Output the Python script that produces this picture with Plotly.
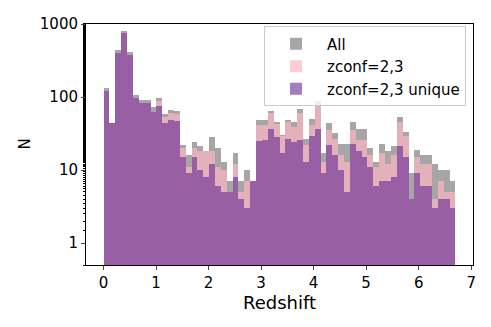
import numpy as np
import plotly.graph_objects as go

# histogram: 60 bins between z=0 and z=6.7
z_min, z_max, n_bins = 0.0, 6.7, 60

all_counts = [131, 44, 440, 810, 418, 105, 92, 92, 72, 96,
              58, 66, 65, 22, 16, 24, 21, 18, 28, 20,
              13, 7, 17, 7, 10, 7, 49, 49, 64, 46,
              30, 49, 46, 68, 27, 50, 89, 17, 44, 32,
              23, 23, 46, 37, 36, 20, 13, 23, 18, 21,
              53, 33, 9, 19, 16, 16, 12, 10, 10, 7]

zconf_counts = [121, 44, 405, 760, 376, 98, 84, 84, 63, 89,
                54, 61, 58, 20, 11, 20, 18, 18, 18, 11,
                10, 5, 12, 5, 7, 7, 41, 42, 60, 43,
                29, 46, 39, 60, 22, 41, 78, 13, 35, 27,
                16, 13, 35, 26, 26, 16, 11, 17, 12, 16,
                45, 29, 4, 15, 12, 12, 4, 7, 5, 5]

unique_counts = [121, 44, 405, 760, 376, 98, 84, 82, 63, 75,
                 44, 48, 47, 15, 9, 15, 10, 8, 12, 6,
                 5, 5, 8, 4, 3, 7, 25, 26, 37, 28,
                 17, 27, 24, 26, 13, 29, 37, 9, 22, 16,
                 10, 5, 23, 18, 15, 11, 6, 7, 7, 8,
                 21, 15, 4, 9, 6, 6, 3, 4, 4, 3]

edges = np.linspace(z_min, z_max, n_bins + 1)
centers = (edges[:-1] + edges[1:]) / 2
width = edges[1] - edges[0]

series = [
    ("All", all_counts, "rgba(128,128,128,0.7)"),
    ("zconf=2,3", zconf_counts, "rgba(255,182,196,0.7)"),
    ("zconf=2,3 unique", unique_counts, "rgba(106,45,150,0.62)"),
]

fig = go.Figure()
for name, counts, color in series:
    fig.add_trace(go.Bar(x=centers, y=counts, width=width, name=name,
                         marker=dict(color=color, line=dict(width=0))))

font = dict(family="DejaVu Sans", size=15, color="black")
# page body adds an 8px offset, so the figure is a bit smaller than the window
fig.update_layout(
    width=483, height=319,
    margin=dict(l=78, r=18, t=16, b=62),
    barmode="overlay", bargap=0,
    plot_bgcolor="white", paper_bgcolor="white",
    font=font,
    legend=dict(x=0.982, y=0.99, xanchor="right", yanchor="top",
                bgcolor="rgba(255,255,255,0.8)", bordercolor="#cccccc", borderwidth=1,
                itemwidth=52, font=font),
)
fig.update_xaxes(range=[-0.335, 7.035], tickmode="array", tickvals=list(range(8)),
                 ticks="outside", ticklen=4, showline=True, mirror=True,
                 linecolor="black", linewidth=1, showgrid=False, zeroline=False,
                 automargin=False, title=dict(text="Redshift", standoff=4))
fig.update_yaxes(type="log", range=[np.log10(0.5), 3],
                 tickvals=[1, 10, 100, 1000], ticktext=["1", "10", "100", "1000"],
                 ticks="outside", ticklen=4, showline=True, mirror=True,
                 linecolor="black", linewidth=1, showgrid=False, zeroline=False,
                 minor=dict(ticks="outside", ticklen=2, tickcolor="black", showgrid=False),
                 automargin=False)
# y label placed by hand (axis title standoff is ignored without automargin)
fig.add_annotation(text="N", xref="paper", yref="paper", x=-0.16, y=0.5,
                   textangle=-90, showarrow=False, font=font,
                   xanchor="center", yanchor="middle")

fig.write_html("out.html")
